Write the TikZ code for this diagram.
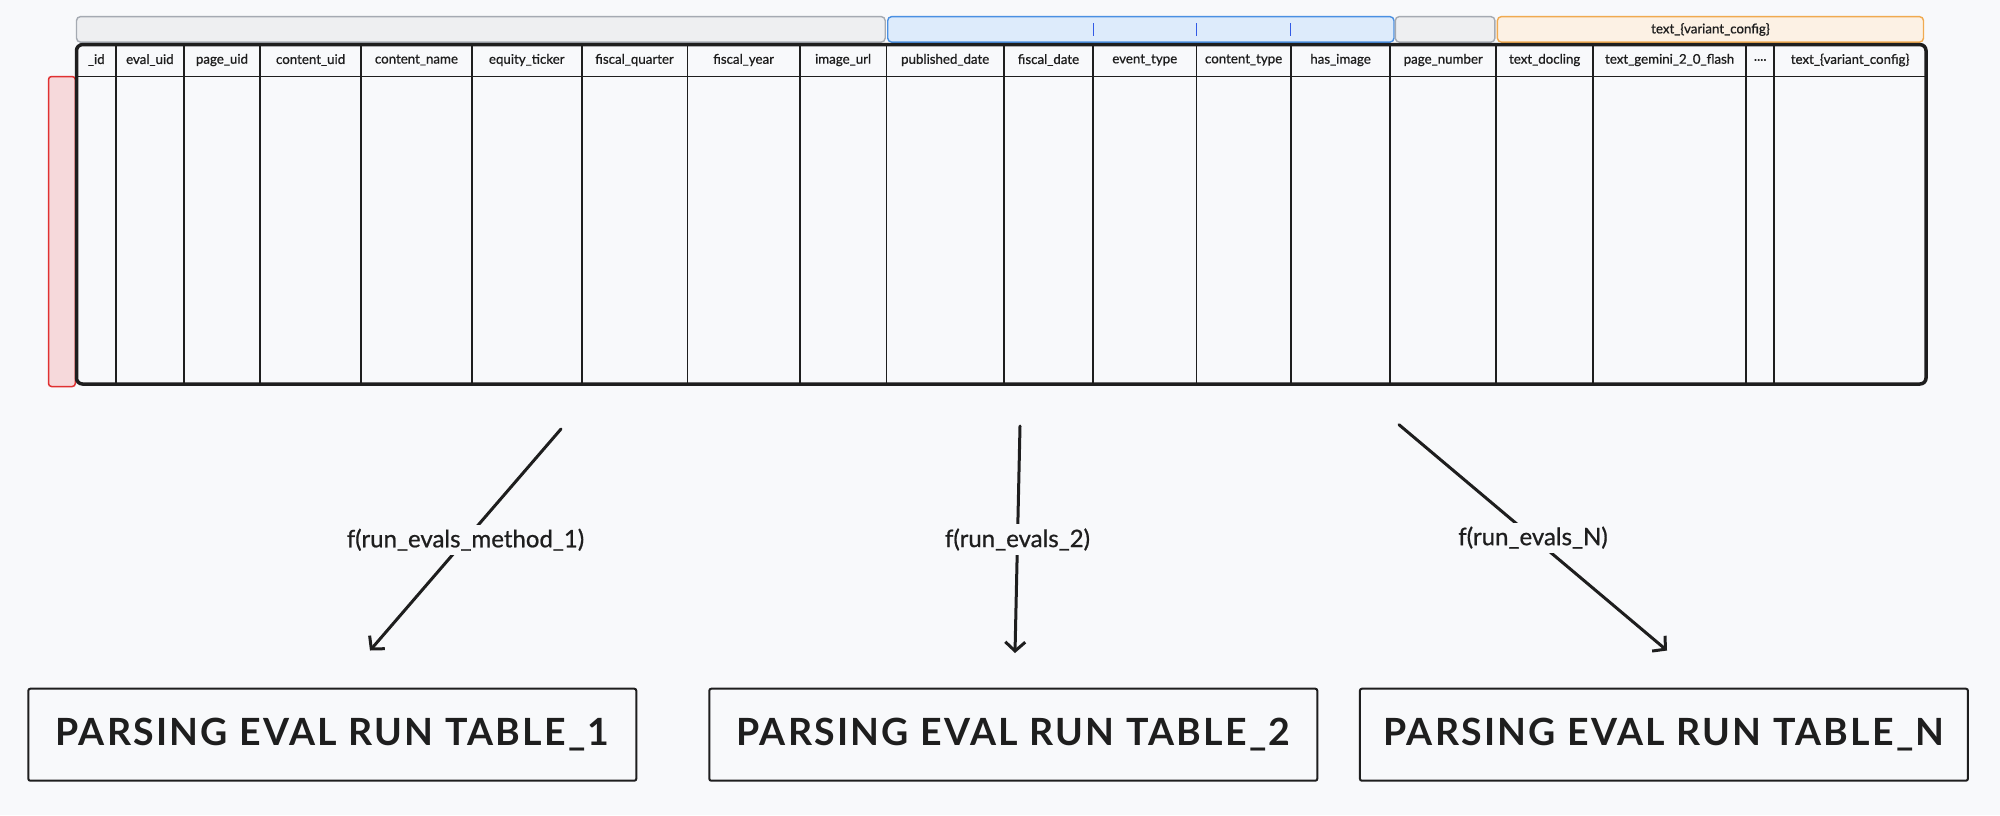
\documentclass[tikz,border=0pt]{standalone}
\usepackage{fontspec}
\setmainfont{Lato}
\newfontfamily\boxfont{Lato}[LetterSpace=6]
\newfontfamily\medfont{Lato}[FakeBold=0.8]
\usetikzlibrary{arrows.meta}
\definecolor{bg}{RGB}{248,249,251}
\definecolor{ink}{RGB}{30,30,30}
\definecolor{grayfill}{RGB}{238,239,241}
\definecolor{graydraw}{RGB}{165,170,178}
\definecolor{bluefill}{RGB}{221,235,251}
\definecolor{bluedraw}{RGB}{74,144,226}
\definecolor{tickblue}{RGB}{50,90,230}
\definecolor{orangefill}{RGB}{252,241,228}
\definecolor{orangedraw}{RGB}{240,170,80}
\definecolor{redfill}{RGB}{246,217,219}
\definecolor{reddraw}{RGB}{224,49,49}
\newcommand\myfourdots{.\kern0pt.\kern0pt.\kern0pt.}
\begin{document}
\begin{tikzpicture}[x=1pt,y=-1pt,
  hdr/.style={font=\medfont\fontsize{13.3}{15}\selectfont, text=ink, inner sep=0pt},
  bar/.style={rounded corners=4pt, line width=1.4pt},
  colline/.style={draw=ink, line width=1.8pt},
  flow/.style={draw=ink, line width=3pt, line cap=round, -{Straight Barb[length=9pt,width=20pt]}},
  lab/.style={fill=bg, font=\medfont\fontsize{24}{28}\selectfont, text=ink, inner sep=4pt},
  outbox/.style={draw=ink, line width=2pt, rounded corners=2pt, minimum width=608pt, minimum height=92pt, inner sep=0pt, font=\boxfont\bfseries\fontsize{37.5}{42}\selectfont, text=ink}
]
\useasboundingbox (0,0) rectangle (2000,815);
\fill[bg] (0,0) rectangle (2000,815);

% header bars
\draw[bar, fill=grayfill, draw=graydraw] (76.5,16.6) rectangle (885.2,42.1);
\draw[bar, fill=bluefill, draw=bluedraw] (887.7,16.6) rectangle (1394,42.1);
\draw[bar, fill=grayfill, draw=graydraw] (1395.3,16.6) rectangle (1494.9,42.1);
\draw[bar, fill=orangefill, draw=orangedraw] (1497.4,16.6) rectangle (1923.5,42.1);
\node[hdr] (grouplabel) at (1710.5,29.5) {text\_\{variant\_config\}};
\foreach \xt in {1093.5,1196.8,1290.8}
  \draw[tickblue, line width=1.3pt] (\xt,23) -- (\xt,36);

% red row marker
\draw[fill=redfill, draw=reddraw, line width=1.5pt, rounded corners=3pt] (48.5,76.5) rectangle (75.3,386.5);

% table
\fill[bg] (76.5,44.6) rectangle (1926,384);
\foreach \xb in {116.1,183.7,260.2,361,471.9,581.6,687.5,799.7,886.5,1003.8,1093.1,1196.4,1290.8,1390.3,1496.2,1593.1,1746.2,1774.2}
  \draw[colline] (\xb,44.6) -- (\xb,384);
\draw[colline] (76.5,76.5) -- (1926,76.5);
\draw[draw=ink, line width=3.5pt, rounded corners=6pt] (76.5,44.6) rectangle (1926,384);

\foreach \xa/\xb/\txt [count=\i] in {
  76.5/116.1/\_id,
  116.1/183.7/eval\_uid,
  183.7/260.2/page\_uid,
  260.2/361/content\_uid,
  361/471.9/content\_name,
  471.9/581.6/equity\_ticker,
  581.6/687.5/fiscal\_quarter,
  687.5/799.7/fiscal\_year,
  799.7/886.5/image\_url,
  886.5/1003.8/published\_date,
  1003.8/1093.1/fiscal\_date,
  1093.1/1196.4/event\_type,
  1196.4/1290.8/content\_type,
  1290.8/1390.3/has\_image,
  1390.3/1496.2/page\_number,
  1496.2/1593.1/text\_docling,
  1593.1/1746.2/text\_gemini\_2\_0\_flash,
  1746.2/1774.2/\myfourdots,
  1774.2/1926/text\_\{variant\_config\}}
  \node[hdr] (h\i) at ({(\xa+\xb)/2},60) {\txt};

% output boxes
\node[outbox] (t1) at (332.3,734.7) {PARSING EVAL RUN TABLE\_1};
\node[outbox] (t2) at (1013.3,734.7) {PARSING EVAL RUN TABLE\_2};
\node[outbox] (t3) at (1663.9,734.7) {PARSING EVAL RUN TABLE\_N};

% arrow end points
\coordinate (a1s) at (561,429);
\coordinate (a1e) at (370,650.5);
\coordinate (a2s) at (1020,426);
\coordinate (a2e) at (1015,653);
\coordinate (a3s) at (1399,424.7);
\coordinate (a3e) at (1667,650.5);

\draw[flow] (a1s) -- node[lab] (l1) {f(run\_evals\_method\_1)} (a1e);
\draw[flow] (a2s) -- node[lab] (l2) {f(run\_evals\_2)} (a2e);
\draw[flow] (a3s) -- node[lab] (l3) {f(run\_evals\_N)} (a3e);
\end{tikzpicture}
\end{document}
